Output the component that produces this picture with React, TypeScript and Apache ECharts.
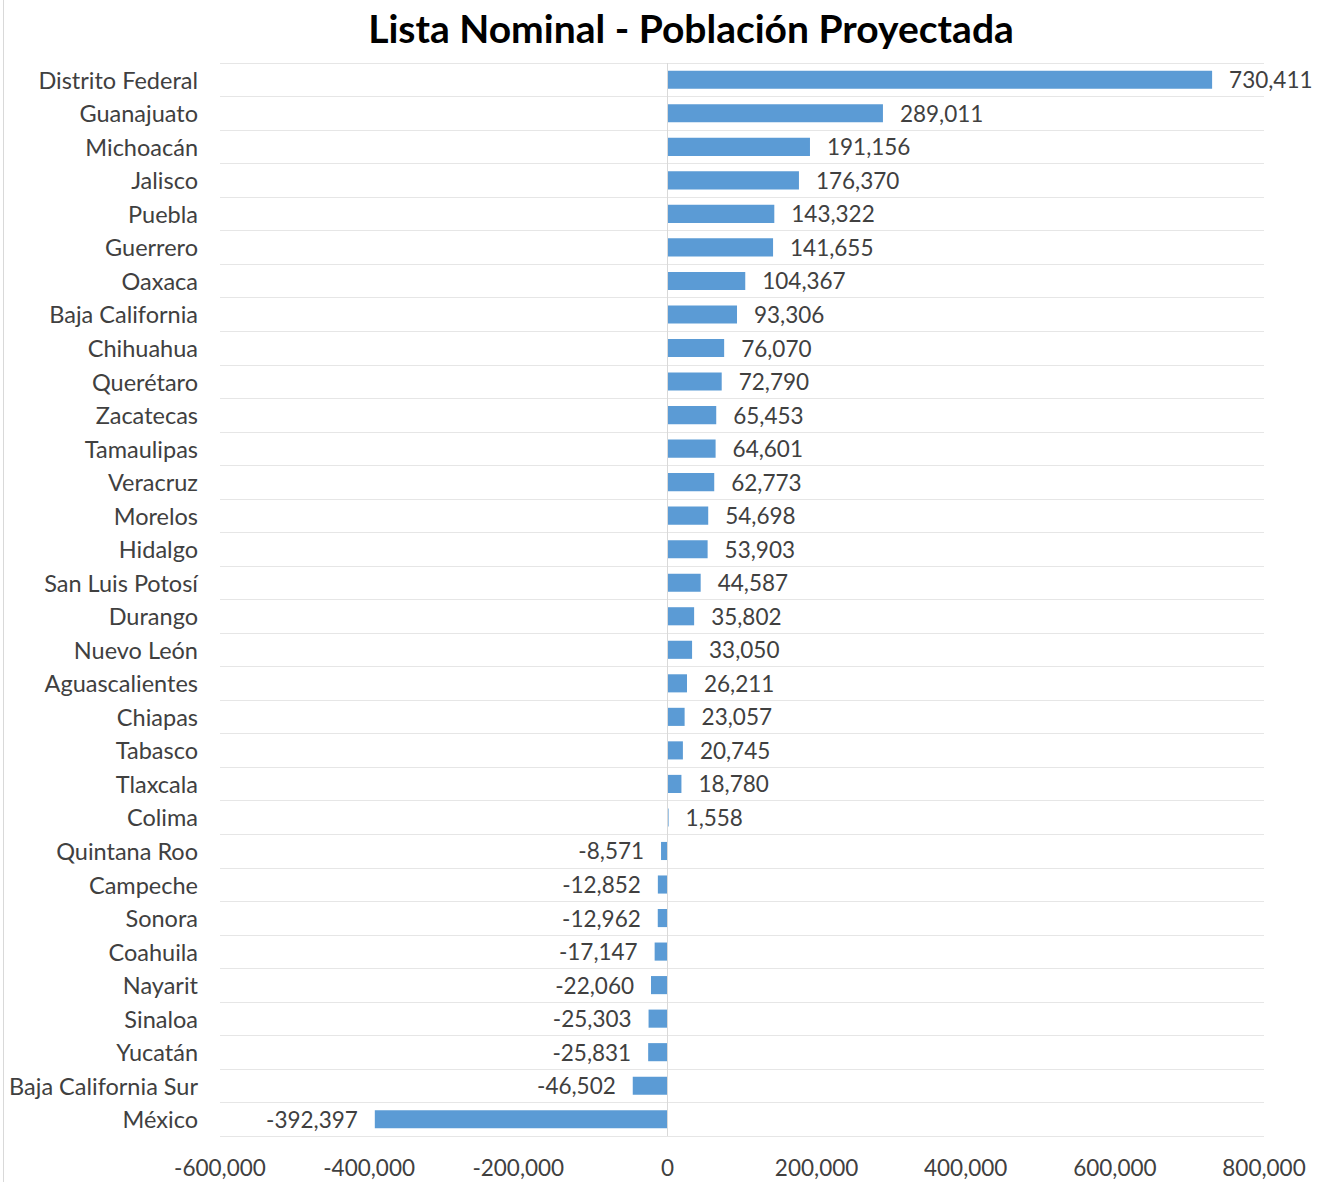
import React, { useEffect, useRef } from "react";
import * as echarts from "echarts";

const categories = [
  "Distrito Federal", "Guanajuato", "Michoacán", "Jalisco", "Puebla", "Guerrero", "Oaxaca",
  "Baja California", "Chihuahua", "Querétaro", "Zacatecas", "Tamaulipas", "Veracruz", "Morelos",
  "Hidalgo", "San Luis Potosí", "Durango", "Nuevo León", "Aguascalientes", "Chiapas", "Tabasco",
  "Tlaxcala", "Colima", "Quintana Roo", "Campeche", "Sonora", "Coahuila", "Nayarit", "Sinaloa",
  "Yucatán", "Baja California Sur", "México",
];

const values = [
  730411, 289011, 191156, 176370, 143322, 141655, 104367, 93306, 76070, 72790, 65453, 64601,
  62773, 54698, 53903, 44587, 35802, 33050, 26211, 23057, 20745, 18780, 1558, -8571, -12852,
  -12962, -17147, -22060, -25303, -25831, -46502, -392397,
];

const xTicks = { min: -600000, max: 800000, interval: 200000 };

const fmt = (v: number) => {
  const s = Math.abs(Math.round(v)).toString().replace(/\B(?=(\d{3})+(?!\d))/g, ",");
  return (v < 0 ? "-" : "") + s;
};

const FONT = "Lato, 'Open Sans', sans-serif";

export default function App() {
  const ref = useRef<HTMLDivElement>(null);
  useEffect(() => {
    if (!ref.current) return;
    const chart = echarts.init(ref.current, null, { renderer: "svg" });
    chart.setOption({
      animation: false,
      backgroundColor: "#ffffff",
      title: {
        text: "Lista Nominal - Población Proyectada",
        left: 686,
        textAlign: "center",
        top: 3,
        textStyle: { fontFamily: FONT, fontSize: 39, fontWeight: "bold", color: "#000000" },
      },
      grid: { left: 220, right: 59, top: 63, bottom: 46, containLabel: false },
      xAxis: {
        type: "value",
        min: xTicks.min,
        max: xTicks.max,
        interval: xTicks.interval,
        axisLine: { show: false },
        axisTick: { show: false },
        splitLine: { show: false },
        axisLabel: {
          formatter: (v: number) => fmt(v),
          fontFamily: FONT,
          fontSize: 22.5,
          color: "#404040",
          margin: 20,
        },
      },
      yAxis: {
        type: "category",
        data: categories,
        inverse: true,
        axisLine: { show: false },
        axisTick: { show: false },
        splitLine: { show: true, lineStyle: { color: "#e6e6e6", width: 1 } },
        axisLabel: { fontFamily: FONT, fontSize: 23.5, color: "#404040", margin: 22 },
      },
      graphic: [
        {
          type: "line",
          shape: { x1: 3.5, y1: 0, x2: 3.5, y2: 1182 },
          style: { stroke: "#d9d9d9", lineWidth: 1 },
        },
      ],
      series: [
        {
          type: "bar",
          barCategoryGap: "46%",
          itemStyle: { color: "#5b9bd5" },
          data: values.map((v) => ({
            value: v,
            label: { position: v < 0 ? "left" : "right" },
          })),
          label: {
            show: true,
            distance: 17,
            formatter: (p: any) => fmt(p.value),
            fontFamily: FONT,
            fontSize: 22.5,
            color: "#404040",
          },
          markLine: {
            silent: true,
            symbol: "none",
            label: { show: false },
            lineStyle: { color: "#d9d9d9", type: "solid", width: 1 },
            data: [{ xAxis: 0 }],
          },
        },
      ],
    });
    return () => chart.dispose();
  }, []);
  return (
    <div
      ref={ref}
      style={{ position: "absolute", left: 0, top: 0, width: 1323, height: 1182 }}
    />
  );
}
